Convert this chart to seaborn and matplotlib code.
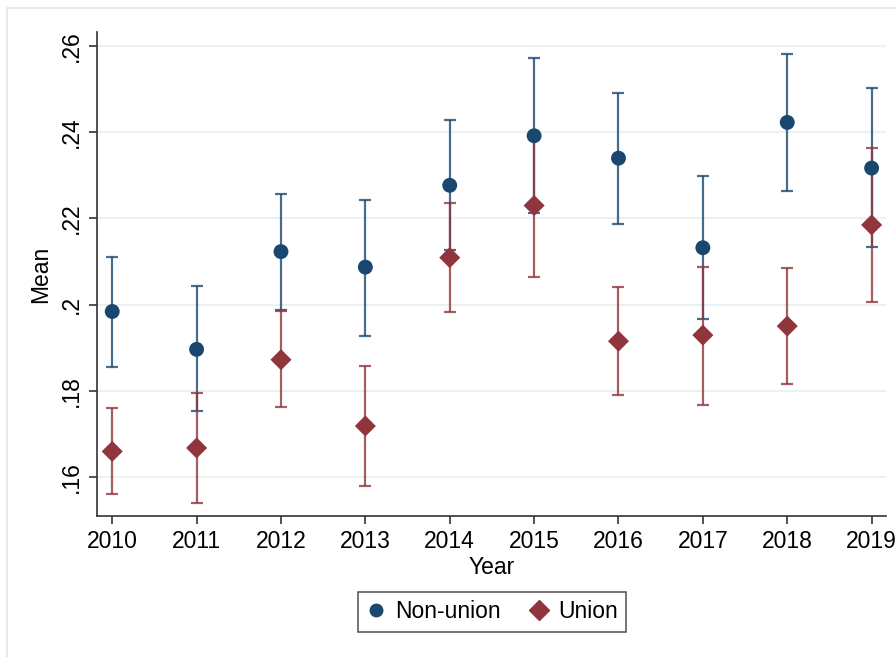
import matplotlib
matplotlib.use("Agg")
import matplotlib.pyplot as plt
import seaborn as sns
import pandas as pd
from matplotlib.patches import Rectangle

# values
years = [2010, 2011, 2012, 2013, 2014, 2015, 2016, 2017, 2018, 2019]

nonunion_mean = [0.1984, 0.1896, 0.2123, 0.2087, 0.2277, 0.2392, 0.2340, 0.2132, 0.2423, 0.2317]
nonunion_lo = [0.1856, 0.1752, 0.1988, 0.1927, 0.2126, 0.2212, 0.2188, 0.1966, 0.2263, 0.2133]
nonunion_hi = [0.2111, 0.2042, 0.2257, 0.2244, 0.2428, 0.2573, 0.2492, 0.2299, 0.2583, 0.2502]

union_mean = [0.1659, 0.1667, 0.1872, 0.1718, 0.2109, 0.2230, 0.1915, 0.1929, 0.1950, 0.2185]
union_lo = [0.1560, 0.1540, 0.1762, 0.1579, 0.1983, 0.2063, 0.1790, 0.1767, 0.1816, 0.2007]
union_hi = [0.1760, 0.1795, 0.1984, 0.1857, 0.2237, 0.2395, 0.2040, 0.2088, 0.2084, 0.2363]

groups = ["Non-union", "Union"]
ytick_vals = [0.16, 0.18, 0.20, 0.22, 0.24, 0.26]
ytick_labels = [".16", ".18", ".2", ".22", ".24", ".26"]

blue = "#1a476f"
red = "#90353b"
palette = {"Non-union": blue, "Union": red}
markers = {"Non-union": "o", "Union": "D"}

df = pd.DataFrame({
    "Year": years * 2,
    "Mean": nonunion_mean + union_mean,
    "lo": nonunion_lo + union_lo,
    "hi": nonunion_hi + union_hi,
    "group": ["Non-union"] * len(years) + ["Union"] * len(years),
})

sns.set_style("white")
plt.rcParams["font.family"] = ["Liberation Sans", "DejaVu Sans"]
plt.rcParams["text.color"] = "black"
plt.rcParams["axes.labelcolor"] = "black"
plt.rcParams["xtick.color"] = "black"
plt.rcParams["ytick.color"] = "black"

fig = plt.figure(figsize=(8.96, 6.57), dpi=100)
ax = fig.add_axes([0.1083, 0.2146, 0.8805, 0.7367])

# light outer frame like the Stata graph region
fig.patches.append(Rectangle((7 / 896, -0.05), 1.2, 1 - 8 / 657 + 0.05,
                             transform=fig.transFigure, fill=False,
                             edgecolor="#dfe7ee", linewidth=1.2, zorder=0))

# confidence interval caps
for g in groups:
    sub = df[df["group"] == g]
    ax.errorbar(sub["Year"], sub["Mean"],
                yerr=[sub["Mean"] - sub["lo"], sub["hi"] - sub["Mean"]],
                fmt="none", ecolor=palette[g], alpha=0.8, elinewidth=1.6,
                capsize=4.5, capthick=1.6, zorder=2)

sns.scatterplot(data=df, x="Year", y="Mean", hue="group", style="group",
                palette=palette, markers=markers, s=115,
                edgecolor="none", ax=ax, zorder=3, legend=False)

ax.set_xlim(2009.82, 2019.17)
ax.set_ylim(0.1509, 0.2633)
ax.set_xticks(years)
ax.set_xticklabels([str(y) for y in years], fontsize=16.5)
ax.set_yticks(ytick_vals)
ax.set_yticklabels(ytick_labels, fontsize=16.5, rotation=90, va="center")
ax.grid(axis="y", color="#eaf2f3", linewidth=1.5)
ax.set_axisbelow(True)

for side in ["top", "right"]:
    ax.spines[side].set_visible(False)
for side in ["left", "bottom"]:
    ax.spines[side].set_color("#333333")
    ax.spines[side].set_linewidth(1.2)
ax.tick_params(axis="both", direction="out", length=6, width=1.2,
               color="#333333", labelcolor="black", left=True, bottom=True)
ax.tick_params(axis="x", pad=4)
ax.tick_params(axis="y", pad=4)

ax.set_xlabel("Year", fontsize=16.5, labelpad=2, color="black")
ax.set_ylabel("Mean", fontsize=16.5, labelpad=6, color="black")

handles = [plt.Line2D([], [], linestyle="none", marker=markers[g],
                      color=palette[g], markersize=9 if g == "Non-union" else 10)
           for g in groups]
leg = fig.legend(handles, groups, loc="center", bbox_to_anchor=(0.549, 0.0685),
                 ncol=2, fontsize=16.5, frameon=True, fancybox=False,
                 handletextpad=0.4, columnspacing=1.2, borderpad=0.35,
                 handlelength=0.9, borderaxespad=0.0)
leg.get_frame().set_edgecolor("#333333")
leg.get_frame().set_linewidth(1.2)
for t in leg.get_texts():
    t.set_color("black")

fig.savefig("out.png", dpi=100)
